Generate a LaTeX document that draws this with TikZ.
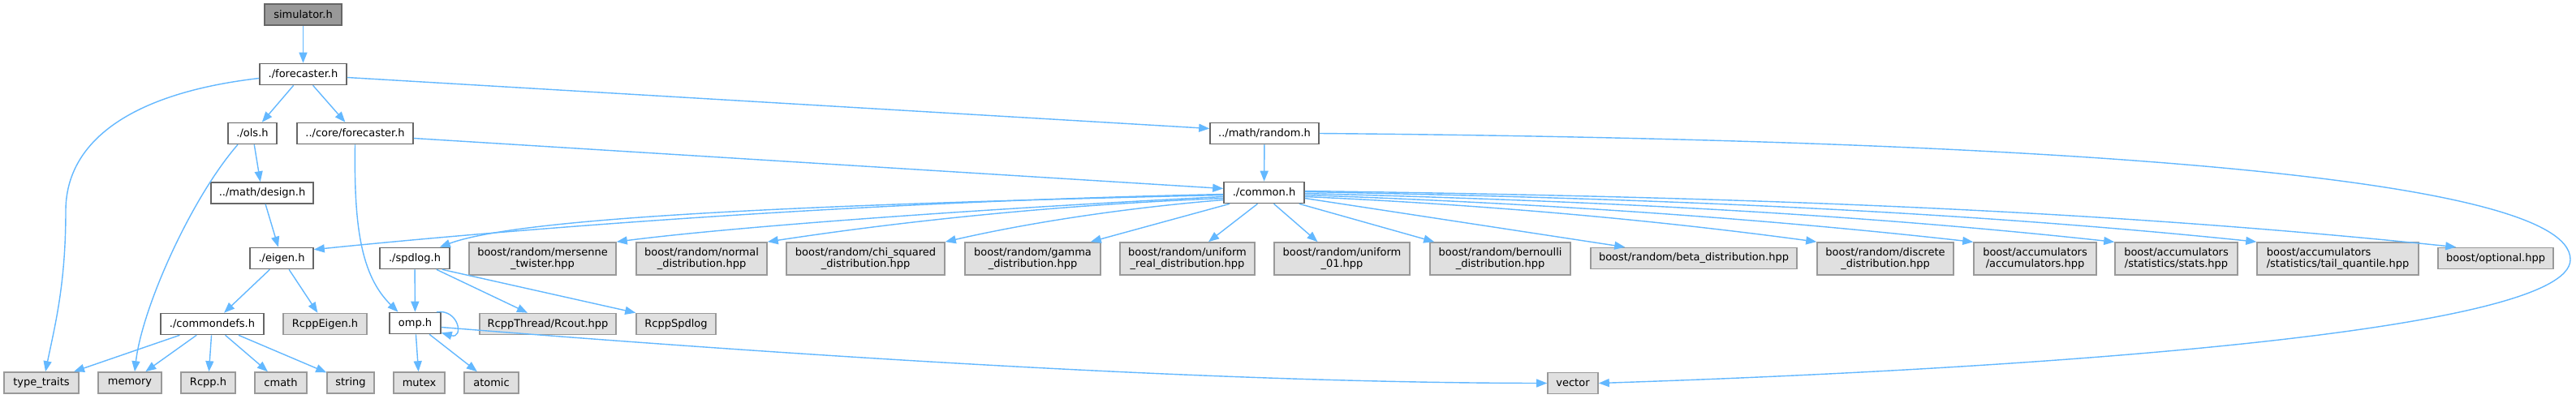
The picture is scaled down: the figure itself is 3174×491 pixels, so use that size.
\documentclass[tikz,border=0pt]{standalone}
\usepackage{fontspec}
\setmainfont{DejaVu Sans}
\usetikzlibrary{arrows.meta}
\definecolor{edgec}{HTML}{63B8FF}
\definecolor{docb}{HTML}{666666}
\definecolor{extb}{HTML}{999999}
\definecolor{extf}{HTML}{E0E0E0}
\definecolor{curf}{HTML}{999999}
\begin{document}
\begin{tikzpicture}[x=1pt,y=-1pt,
  box/.style={draw=docb, fill=white, line width=1.6pt, font=\fontsize{13pt}{14.5pt}\selectfont, inner xsep=0pt, inner ysep=6.3pt, align=center, minimum height=26pt},
  ext/.style={box, draw=extb, fill=extf},
  cur/.style={box, fill=curf},
  edge/.style={draw=edgec, line width=1.4pt, -{Triangle[length=13pt,width=10pt]}}]
\useasboundingbox[fill=white] (0,0) rectangle (3174,491);
% row 0-2
\node[cur, minimum width=95pt] (sim) at (373.5,18) {simulator.h};
\node[box, minimum width=107pt] (fc) at (373.5,91.5) {./forecaster.h};
\node[box, minimum width=60pt] (ols) at (311,164.5) {./ols.h};
\node[box, minimum width=143pt] (cfc) at (437.5,164.5) {../core/forecaster.h};
\node[box, minimum width=134pt] (rnd) at (1558,164.5) {../math/random.h};
\node[box, minimum width=126pt] (des) at (323,238) {../math/design.h};
\node[box, minimum width=99pt] (com) at (1557.5,237.5) {./common.h};
% row 4
\node[box, minimum width=78pt] (eig) at (347,318.5) {./eigen.h};
\node[box, minimum width=86pt] (spd) at (511,318.5) {./spdlog.h};
\node[ext, minimum width=181pt] (mt) at (668.5,319) {boost/random/mersenne\\\_twister.hpp};
\node[ext, minimum width=161pt] (nor) at (864.5,319) {boost/random/normal\\\_distribution.hpp};
\node[ext, minimum width=195pt] (chi) at (1066.5,319) {boost/random/chi\_squared\\\_distribution.hpp};
\node[ext, minimum width=167pt] (gam) at (1272.5,319) {boost/random/gamma\\\_distribution.hpp};
\node[ext, minimum width=166pt] (ur) at (1463,319) {boost/random/uniform\\\_real\_distribution.hpp};
\node[ext, minimum width=167pt] (u01) at (1653.5,319) {boost/random/uniform\\\_01.hpp};
\node[ext, minimum width=173pt] (ber) at (1848.5,319) {boost/random/bernoulli\\\_distribution.hpp};
\node[ext, minimum width=254pt] (beta) at (2087,318.5) {boost/random/beta\_distribution.hpp};
\node[ext, minimum width=168pt] (dis) at (2323,319) {boost/random/discrete\\\_distribution.hpp};
\node[ext, minimum width=151pt] (acc) at (2507.5,319) {boost/accumulators\\/accumulators.hpp};
\node[ext, minimum width=151pt] (sta) at (2681.5,319) {boost/accumulators\\/statistics/stats.hpp};
\node[ext, minimum width=199pt, align=left] (tq) at (2880.5,319) {boost/accumulators\\/statistics/tail\_quantile.hpp};
\node[ext, minimum width=142pt] (opt) at (3075,318.5) {boost/optional.hpp};
% row 5
\node[box, minimum width=127pt] (cdf) at (261.5,399.5) {./commondefs.h};
\node[ext, minimum width=103pt] (rce) at (400.5,399.5) {RcppEigen.h};
\node[box, minimum width=63pt] (omp) at (511.5,398.5) {omp.h};
\node[ext, minimum width=168pt] (rth) at (675,399.5) {RcppThread/Rcout.hpp};
\node[ext, minimum width=98pt] (rsp) at (833,399.5) {RcppSpdlog};
% row 6
\node[ext, minimum width=92pt] (tt) at (51,472) {type\_traits};
\node[ext, minimum width=78pt] (mem) at (160,472) {memory};
\node[ext, minimum width=67pt] (rcpp) at (256.5,472) {Rcpp.h};
\node[ext, minimum width=64pt] (cm) at (346,472) {cmath};
\node[ext, minimum width=58pt] (str) at (432,472) {string};
\node[ext, minimum width=63pt] (mut) at (516.5,472) {mutex};
\node[ext, minimum width=67pt] (ato) at (605.5,472) {atomic};
\node[ext, minimum width=62pt] (vec) at (1938,472.5) {vector};
% edges
\draw[edge] (sim) -- (fc);
\draw[edge] (fc) -- (ols);
\draw[edge] (fc) -- (cfc);
\draw[edge] ([yshift=-4pt]fc.east) -- ([yshift=6pt]rnd.west);
\draw[edge] ([yshift=-5pt]fc.west) .. controls (160,115) and (81,175) .. (81,260) .. controls (81,350) and (68,400) .. ([xshift=5pt]tt.north);
\draw[edge] (ols) -- (des);
\draw[edge] ([xshift=-18pt]ols.south) .. controls (235,245) and (175,380) .. ([xshift=6pt]mem.north);
\draw[edge] (des) -- (eig);
\draw[edge] ([yshift=-6pt]cfc.east) -- ([yshift=5pt]com.west);
\draw[edge] (cfc.south) .. controls (436,280) and (445,340) .. ([xshift=-21pt]omp.north);
\draw[edge] (rnd) -- (com);
\draw[edge] (rnd.east) .. controls (2500,172) and (3167,215) .. (3167,320) .. controls (3167,410) and (2500,455) .. (vec.east);
% common fan-out
\draw[edge] ([yshift=-2pt]com.west) .. controls (1000,250) and (560,290) .. ([yshift=-3pt]eig.north east);
\draw[edge] ([yshift=-3pt]com.west) .. controls (1000,252) and (640,268) .. ([xshift=-13pt]spd.north east);
\draw[edge] ([yshift=-5pt]com.west) .. controls (1200,258) and (900,280) .. (mt.north east);
\draw[edge] ([yshift=-7pt]com.west) .. controls (1320,252) and (1130,270) .. (nor.north east);
\draw[edge] ([yshift=-9pt]com.west) .. controls (1390,256) and (1270,274) .. (chi.north east);
\draw[edge] ([xshift=8pt]com.south west) -- ([xshift=-13pt]gam.north east);
\draw[edge] ([xshift=-8pt]com.south) -- ([xshift=26pt]ur.north);
\draw[edge] ([xshift=12pt]com.south) -- ([xshift=-30pt]u01.north);
\draw[edge] ([xshift=-7pt]com.south east) -- ([xshift=6pt]ber.north west);
\draw[edge] ([yshift=-7pt]com.east) -- ([xshift=43pt]beta.north west);
\draw[edge] ([yshift=-5pt]com.east) .. controls (1820,252) and (2030,270) .. (dis.north west);
\draw[edge] ([yshift=-3pt]com.east) .. controls (1880,250) and (2160,268) .. (acc.north west);
\draw[edge] ([yshift=-1pt]com.east) .. controls (1940,247) and (2270,262) .. (sta.north west);
\draw[edge] ([yshift=1pt]com.east) .. controls (2000,244) and (2390,258) .. (tq.north west);
\draw[edge] ([yshift=2pt]com.east) .. controls (2080,242) and (2550,255) .. ([xshift=23pt]opt.north west);
% eigen, spdlog
\draw[edge] (eig) -- (cdf);
\draw[edge] (eig) -- (rce);
\draw[edge] (spd) -- (omp);
\draw[edge] ([xshift=-17pt]spd.south east) -- ([xshift=-25pt]rth.north);
\draw[edge] ([xshift=-10pt]spd.south east) -- (rsp.north west);
% commondefs
\draw[edge] (cdf) -- (tt);
\draw[edge] (cdf) -- (mem);
\draw[edge] (cdf) -- (rcpp);
\draw[edge] (cdf) -- (cm);
\draw[edge] (cdf) -- (str);
% omp
\draw[edge] (omp) -- (mut);
\draw[edge] (omp) -- (ato);
\draw[edge] ([xshift=-6pt]omp.north east) .. controls ([xshift=22pt,yshift=4pt]omp.north east) and ([xshift=28pt,yshift=-6pt]omp.south east) .. ([yshift=2pt]omp.south east);
\draw[edge] ([yshift=-5pt]omp.east) .. controls (1000,440) and (1500,472) .. (vec.west);
\end{tikzpicture}
\end{document}
